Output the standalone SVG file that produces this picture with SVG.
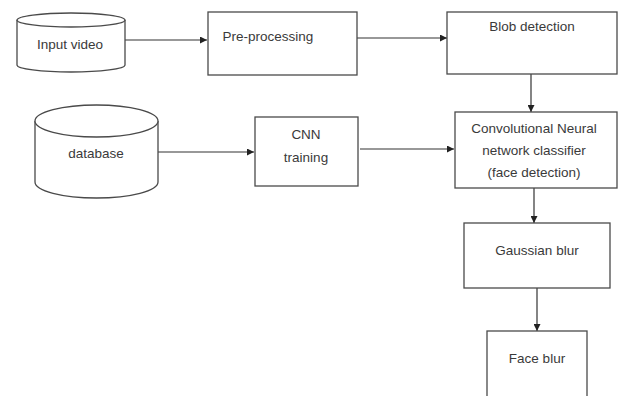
<svg xmlns="http://www.w3.org/2000/svg" width="619" height="396" viewBox="0 0 619 396">
<style>
.s{fill:#fff;stroke:#4a4a4a;stroke-width:1.3}
.t{font-family:"Liberation Sans",Arial,sans-serif;font-size:13.5px;fill:#3a3a3a;text-anchor:middle}
.c{stroke:#333;stroke-width:1.2;fill:none;marker-end:url(#ah)}
</style>
<defs>
<marker id="ah" viewBox="0 0 10 10" refX="10" refY="5" markerWidth="7" markerHeight="7" markerUnits="userSpaceOnUse" orient="auto">
<path d="M0,0L10,5L0,10z" fill="#222"/>
</marker>
</defs>
<rect width="619" height="396" fill="#fff"/>
<g id="connectors">
<line class="c" x1="125" y1="40" x2="207" y2="40"/>
<line class="c" x1="357" y1="38" x2="447" y2="38"/>
<line class="c" x1="531" y1="74" x2="531" y2="112"/>
<line class="c" x1="158" y1="152" x2="254" y2="152"/>
<line class="c" x1="360" y1="149" x2="454" y2="149"/>
<line class="c" x1="534" y1="188" x2="534" y2="223"/>
<line class="c" x1="537" y1="288" x2="537" y2="331"/>
</g>
<g id="input-video">
<path class="s" d="M17,20 L17,65 A54,7 0 0 0 125,65 L125,20"/>
<ellipse class="s" cx="71" cy="20" rx="54" ry="7"/>
<text class="t" x="70" y="49">Input video</text>
</g>
<g id="pre-processing">
<rect class="s" x="208" y="12" width="149" height="63"/>
<text class="t" x="268" y="41">Pre-processing</text>
</g>
<g id="blob-detection">
<rect class="s" x="447" y="12" width="170" height="62"/>
<text class="t" x="532" y="31">Blob detection</text>
</g>
<g id="database">
<path class="s" d="M35,121 L35,182 A61.5,16 0 0 0 158,182 L158,121"/>
<ellipse class="s" cx="96.5" cy="121" rx="61.5" ry="16"/>
<text class="t" x="96" y="158">database</text>
</g>
<g id="cnn-training">
<rect class="s" x="255" y="117" width="103" height="69"/>
<text class="t" x="306" y="139">CNN</text>
<text class="t" x="306" y="162">training</text>
</g>
<g id="cnn-classifier">
<rect class="s" x="455" y="112" width="162" height="76"/>
<text class="t" x="534" y="133">Convolutional Neural</text>
<text class="t" x="534" y="155">network classifier</text>
<text class="t" x="534" y="177">(face detection)</text>
</g>
<g id="gaussian-blur">
<rect class="s" x="464" y="223" width="146" height="65"/>
<text class="t" x="537" y="255">Gaussian blur</text>
</g>
<g id="face-blur">
<rect class="s" x="487" y="331" width="100" height="80"/>
<text class="t" x="537" y="363">Face blur</text>
</g>
</svg>
